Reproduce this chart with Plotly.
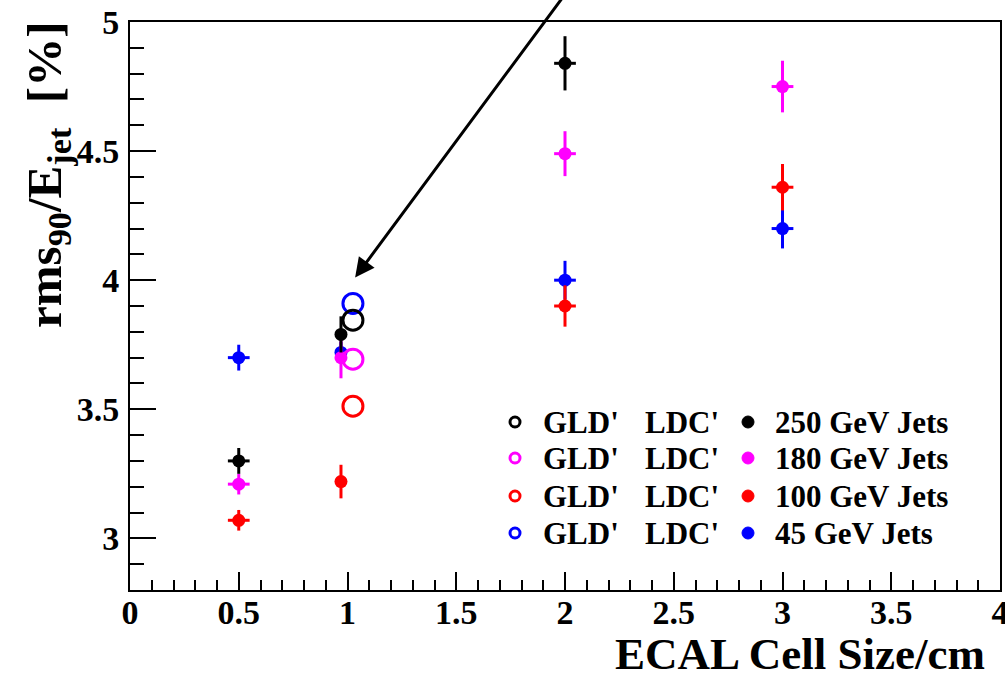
import plotly.graph_objects as go

# ---------------- data ----------------
energies = ["250 GeV Jets", "180 GeV Jets", "100 GeV Jets", "45 GeV Jets"]
colors = ["#000000", "#ff00ff", "#ff0000", "#0000ff"]
open_label_a = "GLD'"
open_label_b = "LDC'"

# filled points (cell size, rms90/Ejet)
fill_x = {
    "250 GeV Jets": [0.5, 0.97, 2.0],
    "180 GeV Jets": [0.5, 0.97, 2.0, 3.0],
    "100 GeV Jets": [0.5, 0.97, 2.0, 3.0],
    "45 GeV Jets":  [0.5, 0.97, 2.0, 3.0],
}
fill_y = {
    "250 GeV Jets": [3.30, 3.79, 4.84],
    "180 GeV Jets": [3.21, 3.70, 4.49, 4.75],
    "100 GeV Jets": [3.07, 3.22, 3.90, 4.36],
    "45 GeV Jets":  [3.70, 3.72, 4.00, 4.20],
}
fill_ex = {
    "250 GeV Jets": [0.05, 0.0, 0.05],
    "180 GeV Jets": [0.05, 0.0, 0.05, 0.05],
    "100 GeV Jets": [0.05, 0.0, 0.05, 0.05],
    "45 GeV Jets":  [0.05, 0.0, 0.05, 0.05],
}
fill_ey = {
    "250 GeV Jets": [0.05, 0.07, 0.105],
    "180 GeV Jets": [0.04, 0.08, 0.087, 0.10],
    "100 GeV Jets": [0.04, 0.065, 0.08, 0.09],
    "45 GeV Jets":  [0.05, 0.04, 0.075, 0.077],
}
# open points (GLD' / LDC')
open_x = [1.025, 1.025, 1.025, 1.025]
open_y = [3.845, 3.694, 3.512, 3.91]

x_ticks = [0, 0.5, 1, 1.5, 2, 2.5, 3, 3.5, 4]
y_ticks = [3, 3.5, 4, 4.5, 5]

# ---------------- layout constants ----------------
W, H = 1005, 679
ML, MR, MT, MB = 130, 5, 22, 89
PW, PH = W - ML - MR, H - MT - MB
FONT = "Liberation Serif"


def px_x(p):
    return (p - ML) / PW


def px_y(p):
    return (H - MB - p) / PH


fig = go.Figure()

draw_order = [3, 2, 1, 0]
for i in draw_order:
    name = energies[i]
    fig.add_trace(go.Scatter(
        x=fill_x[name], y=fill_y[name], mode="markers", name=name, showlegend=False,
        marker=dict(symbol="circle", size=13, color=colors[i]),
        error_x=dict(type="data", array=fill_ex[name], width=0, thickness=3, color=colors[i]),
        error_y=dict(type="data", array=fill_ey[name], width=0, thickness=3, color=colors[i]),
    ))

for i in draw_order:
    fig.add_trace(go.Scatter(
        x=[open_x[i]], y=[open_y[i]], mode="markers", name=open_label_a + " " + open_label_b,
        showlegend=False,
        marker=dict(symbol="circle-open", size=20, color=colors[i], line=dict(width=3, color=colors[i])),
    ))

axis_font = dict(family=FONT, size=34, color="black", weight="bold")

fig.update_layout(
    width=W, height=H,
    margin=dict(l=ML, r=MR, t=MT, b=MB, autoexpand=False),
    paper_bgcolor="white", plot_bgcolor="white",
    font=dict(family=FONT, color="black"),
    showlegend=False,
    xaxis=dict(
        range=[0, 4], tickvals=x_ticks, ticktext=[f"{v:g}" for v in x_ticks],
        ticks="inside", ticklen=18, tickwidth=1.5, tickcolor="black",
        minor=dict(ticks="inside", dtick=0.1, tick0=0, ticklen=10, tickwidth=1.5, tickcolor="black"),
        showline=True, linewidth=2, linecolor="black", mirror=True,
        showgrid=False, zeroline=False, tickfont=axis_font,
        automargin=False, ticklabeloverflow="allow", ticklabelstandoff=-9,
    ),
    yaxis=dict(
        range=[2.8, 5], tickvals=y_ticks, ticktext=[f"{v:g}" for v in y_ticks],
        ticks="inside", ticklen=26, tickwidth=1.5, tickcolor="black",
        minor=dict(ticks="inside", dtick=0.1, tick0=0, ticklen=14, tickwidth=1.5, tickcolor="black"),
        showline=True, linewidth=2, linecolor="black", mirror=True,
        showgrid=False, zeroline=False, tickfont=axis_font,
        automargin=False, ticklabeloverflow="allow", ticklabelstandoff=2,
    ),
)

# ---------------- legend (drawn by hand, two columns) ----------------
leg_rows = [422, 458, 496, 533]
leg_font = dict(family=FONT, size=31, color="black", weight="bold")
for i, row in enumerate(leg_rows):
    yy = px_y(row)
    fig.add_shape(type="circle", xref="paper", yref="paper", xsizemode="pixel", ysizemode="pixel",
                  xanchor=px_x(515), yanchor=yy, x0=-5, x1=5, y0=-5, y1=5,
                  line=dict(color=colors[i], width=3), fillcolor="rgba(0,0,0,0)")
    fig.add_shape(type="circle", xref="paper", yref="paper", xsizemode="pixel", ysizemode="pixel",
                  xanchor=px_x(748), yanchor=yy, x0=-6, x1=6, y0=-6, y1=6,
                  line=dict(color=colors[i], width=1), fillcolor=colors[i])
    fig.add_annotation(xref="paper", yref="paper", x=px_x(541), y=yy, xanchor="left", yanchor="middle",
                       text=open_label_a, showarrow=False, font=leg_font)
    fig.add_annotation(xref="paper", yref="paper", x=px_x(643), y=yy, xanchor="left", yanchor="middle",
                       text=open_label_b, showarrow=False, font=leg_font)
    fig.add_annotation(xref="paper", yref="paper", x=px_x(773), y=yy, xanchor="left", yanchor="middle",
                       text=energies[i], showarrow=False, font=leg_font)

# axis titles (ROOT style: right / top aligned)
fig.add_annotation(
    xref="paper", yref="paper", x=px_x(987), y=px_y(654), xanchor="right", yanchor="middle",
    text="ECAL Cell Size/cm", showarrow=False,
    font=dict(family=FONT, size=45, color="black", weight="bold"),
)
fig.add_annotation(
    xref="paper", yref="paper", x=px_x(48), y=px_y(20), xanchor="center", yanchor="top",
    text="rms<sub>90</sub>/E<sub>jet</sub>\u00a0\u00a0[%]", showarrow=False, textangle=-90,
    font=dict(family=FONT, size=49, color="black", weight="bold"),
)
# arrow pointing at the GLD'/LDC' comparison points
fig.add_annotation(
    xref="x", yref="y", axref="x", ayref="y",
    x=1.035, y=4.01, ax=2.02, ay=5.13, text="",
    showarrow=True, arrowhead=2, arrowsize=1.3, arrowwidth=3, arrowcolor="black",
)

fig.write_html(
    "out.html",
    config={"displayModeBar": False},
    post_script="document.body.style.margin='0';document.body.style.overflow='hidden';",
)
